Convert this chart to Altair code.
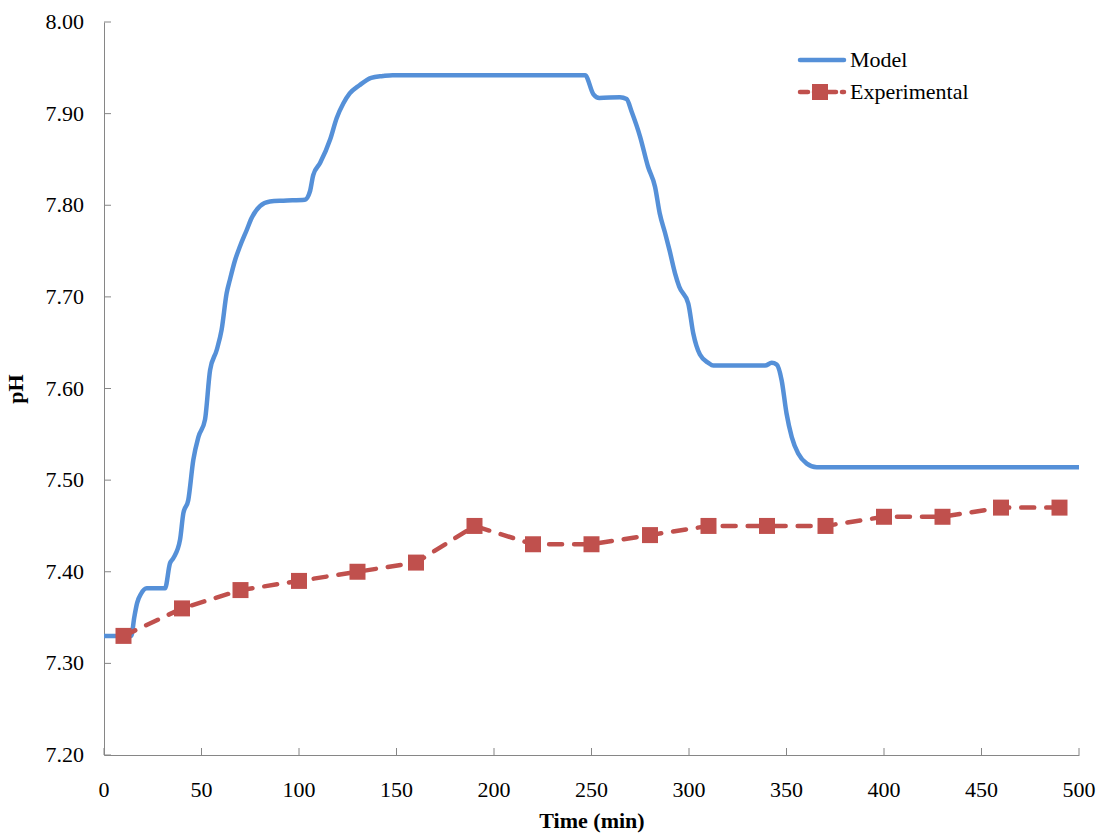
import altair as alt
import pandas as pd

# Model pH trace (time in min)
model_t = [0, 14, 15.5, 17, 19, 21.9, 25, 31.3, 33.8, 35.6, 39, 40.7, 43.2, 45.8, 48.4,
           51.8, 54.4, 57.8, 60.3, 62.9, 64.6, 67.2, 69.7, 73.2, 75.7, 80, 85.1, 92,
           103, 105.6, 107.3, 110.8, 116, 119.3, 122.7, 126, 131, 137, 143, 148,
           246.7, 251, 254, 264.6, 268, 270.6, 274.9, 279, 282.6, 285, 287.7, 290,
           292.8, 295, 299.6, 302.2, 305.6, 309.9, 312.5, 339, 342.4, 345, 347.5,
           350, 352.7, 356, 360.4, 365.5, 500]
model_ph = [7.330, 7.330, 7.350, 7.366, 7.376, 7.382, 7.382, 7.382, 7.409, 7.415,
            7.435, 7.464, 7.478, 7.522, 7.547, 7.566, 7.620, 7.642, 7.664, 7.704,
            7.719, 7.740, 7.755, 7.773, 7.786, 7.799, 7.804, 7.805, 7.806, 7.815,
            7.833, 7.846, 7.872, 7.895, 7.911, 7.922, 7.931, 7.939, 7.941, 7.942,
            7.942, 7.921, 7.917, 7.918, 7.916, 7.902, 7.875, 7.842, 7.820, 7.791,
            7.770, 7.751, 7.726, 7.711, 7.693, 7.660, 7.637, 7.628, 7.625, 7.625,
            7.628, 7.626, 7.609, 7.573, 7.547, 7.529, 7.518, 7.514, 7.514]

# Experimental measurements
exp_t = [10, 40, 70, 100, 130, 160, 190, 220, 250, 280, 310, 340, 370, 400, 430, 460, 490]
exp_ph = [7.33, 7.36, 7.38, 7.39, 7.40, 7.41, 7.45, 7.43, 7.43, 7.44, 7.45, 7.45,
          7.45, 7.46, 7.46, 7.47, 7.47]

x_ticks = [0, 50, 100, 150, 200, 250, 300, 350, 400, 450, 500]
y_ticks = [7.20, 7.30, 7.40, 7.50, 7.60, 7.70, 7.80, 7.90, 8.00]

BLUE = "#5590D8"
RED = "#C0504D"
FONT = "Liberation Serif"
W, H = 975, 733

model_df = pd.DataFrame({"t": model_t, "ph": model_ph})
exp_df = pd.DataFrame({"t": exp_t, "ph": exp_ph})
xtick_df = pd.DataFrame({"t": x_ticks, "lab": [str(v) for v in x_ticks]})
ytick_df = pd.DataFrame({"ph": y_ticks, "lab": [f"{v:.2f}" for v in y_ticks]})

x_scale = alt.Scale(domain=[0, 500], nice=False)
y_scale = alt.Scale(domain=[7.2, 8.0], nice=False, zero=False)

# Axis lines and titles come from the axes; tick labels are drawn as text marks
axis_style = dict(
    tickSize=0, labels=False, grid=False, domainColor="#868686", domainWidth=1,
    titleFont=FONT, titleFontSize=22, titleFontWeight="bold", titleColor="black",
)
x_axis = alt.Axis(values=x_ticks, title="Time (min)", titlePadding=55, **axis_style)
y_axis = alt.Axis(values=y_ticks, title="pH", titlePadding=76, **axis_style)

X = alt.X("t:Q", scale=x_scale)
Y = alt.Y("ph:Q", scale=y_scale)

# Inward-pointing tick marks
xt = alt.Chart(xtick_df).mark_rule(color="#868686", strokeWidth=1).encode(
    x=alt.X("t:Q", scale=x_scale, axis=x_axis), y=alt.value(H - 7), y2=alt.value(H)
)
yt = alt.Chart(ytick_df).mark_rule(color="#868686", strokeWidth=1).encode(
    y=alt.Y("ph:Q", scale=y_scale, axis=y_axis), x=alt.value(0), x2=alt.value(7)
)

# Tick labels
xlab = alt.Chart(xtick_df).mark_text(
    font=FONT, fontSize=22, color="black", baseline="alphabetic", align="center"
).encode(x=X, y=alt.value(H + 42), text="lab:N")
ylab = alt.Chart(ytick_df).mark_text(
    font=FONT, fontSize=22, color="black", baseline="middle", align="right", dx=-20
).encode(y=Y, x=alt.value(0), text="lab:N")

model_line = alt.Chart(model_df).mark_line(
    color=BLUE, strokeWidth=4.5, interpolate="monotone", strokeJoin="round"
).encode(x=X, y=Y)

exp_line = alt.Chart(exp_df).mark_line(
    color=RED, strokeWidth=4.5, strokeDash=[13, 12], strokeCap="round"
).encode(x=X, y=Y)

exp_pts = alt.Chart(exp_df).mark_square(color=RED, size=256, opacity=1).encode(x=X, y=Y)

# Legend
leg = pd.DataFrame({"k": [0]})
leg_model = alt.Chart(leg).mark_rule(color=BLUE, strokeWidth=4.5, strokeCap="round").encode(
    x=alt.value(696), x2=alt.value(740), y=alt.value(38)
)
leg_exp_line = alt.Chart(leg).mark_rule(
    color=RED, strokeWidth=4.5, strokeCap="round", strokeDash=[8, 6]
).encode(x=alt.value(696), x2=alt.value(740), y=alt.value(70))
leg_exp_pt = alt.Chart(leg).mark_square(color=RED, size=256, opacity=1).encode(
    x=alt.value(716), y=alt.value(70)
)
leg_text = alt.Chart(pd.DataFrame({"label": ["Model", "Experimental"], "yy": [38, 70]})).mark_text(
    align="left", baseline="middle", font=FONT, fontSize=22, color="black"
).encode(x=alt.value(746), y=alt.Y("yy:Q", scale=None), text="label:N")

chart = alt.layer(
    xt, yt, xlab, ylab, model_line, exp_line, exp_pts,
    leg_model, leg_exp_line, leg_exp_pt, leg_text
).properties(
    width=W, height=H,
    autosize=alt.AutoSizeParams(type="none"),
    padding={"left": 104, "top": 22, "right": 21, "bottom": 79},
    background="white",
).configure(view={"stroke": None})

chart.save("out.html", embed_options={"renderer": "svg", "actions": False})
